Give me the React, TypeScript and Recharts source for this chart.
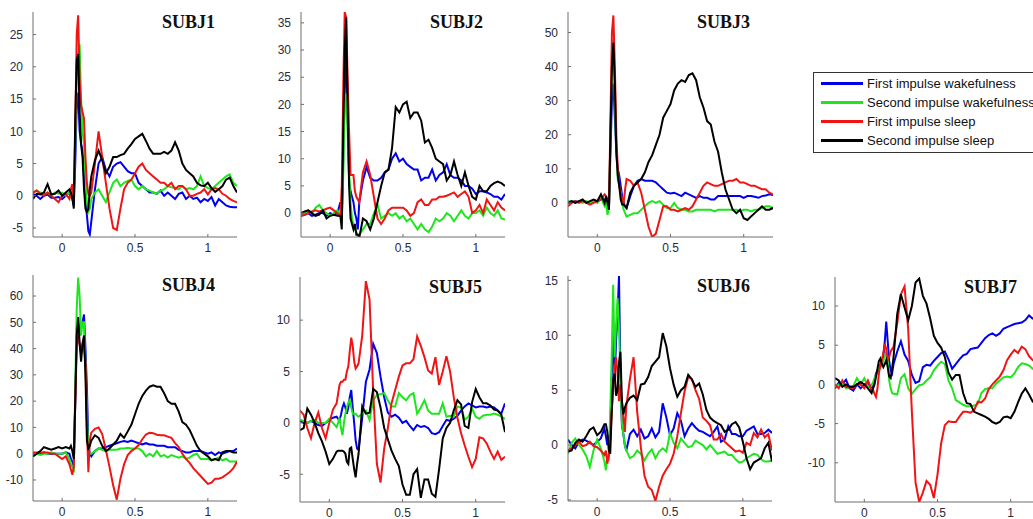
import { LineChart, Line, XAxis, YAxis } from 'recharts';

// time axis (s), denser around the stimulus artefact
const t = [
  -0.2, -0.175, -0.15, -0.125, -0.1, -0.075, -0.05, -0.025, 0, 0.025, 0.05,
  0.06, 0.07, 0.08, 0.09, 0.1, 0.11, 0.12, 0.13, 0.14, 0.15, 0.16, 0.17, 0.18, 0.19, 0.2,
  0.225, 0.25, 0.275, 0.3, 0.325, 0.35, 0.375, 0.4, 0.425, 0.45,
  0.475, 0.5, 0.525, 0.55, 0.575, 0.6, 0.625, 0.65, 0.675, 0.7,
  0.725, 0.75, 0.775, 0.8, 0.825, 0.85, 0.875, 0.9, 0.925, 0.95,
  0.975, 1.0, 1.025, 1.05, 1.075, 1.1, 1.125, 1.15, 1.175, 1.2,
];

const seriesNames = [
  'First impulse wakefulness',
  'Second impulse wakefulness',
  'First impulse sleep',
  'Second impulse sleep',
];
const seriesColors = ['#0000ee', '#1ee61e', '#f01414', '#000000'];

const xTicks = [0, 0.5, 1];

// SUBJ1
const subj1Wake1 = [
  0.3, 0, -0.5, 0, 0.2, -0.3, -0.3, -0.2, -0.5, 0, 0.5,
  0, -0.5, -1.5, 5, 14, 16, 10, 8, 7, 3, -1, -3, -5.5, -6, -4,
  1, 5, 6, 4, 3, 4.5, 5, 5.2, 4.5, 3.8,
  3.5, 3.5, 2, 1.5, 1, 0.5, 0.5, 0.3, 0.8, 0,
  0.5, 0, -0.5, 0.3, 0.5, -0.5, 0, -0.5, -0.3, -1,
  -0.5, -0.8, -0.2, -1.5, -0.5, -1, -1.5, -1.7, -1.8, -1.8,
];
const subj1Wake2 = [
  0.5, 0.8, 0.5, 0.3, 0.5, 0, 0.5, 0.3, 0.5, 0, 0.5,
  0, 0.5, -0.5, 8, 18, 22, 23.5, 15, 10, 8, 3, -1, -2.5, -2, -0.5,
  0.5, 1, 0, -1, 0.5, 2, 2.5, 1.5, 2, 2.3,
  2.5, 1.5, 1, 1.5, 1, 0.8, 0.5, 0.3, 0.8, 1,
  1.5, 1.3, 1.2, 1, 1.5, 1, 1.2, 1, 1.5, 3,
  1.5, 1.2, 1, 1.5, 2, 2.5, 3, 3.3, 2, 1.5,
];
const subj1Sleep1 = [
  0.5, 0.8, 0.3, 0, 0.5, 0, -0.5, -1, 0, 0.3, -0.5,
  1, 1.8, -1, 10, 25, 28, 18, 14, 13, 12, 6, 2, 0.3, 0, 0.5,
  5, 10, 6, 2, -2, -5, -5.3, -2, 1, 2,
  2.5, 3.5, 4.5, 5, 4, 3.5, 3, 2.5, 2, 2,
  1.5, 2, 1, 1.5, 1.5, 1, 0, 0, 0.3, 0.5,
  1, 0.2, 1, 1.2, 1, 0.3, 0, -0.5, -0.8, -1,
];
const subj1Sleep2 = [
  -0.5, 0.3, 0.2, 0.5, 1.8, 0.2, 0.3, 0.8, 0, 0.5, 1.0,
  0.5, -0.3, -2, 12, 21, 22, 13, 8, 6, 1, -2, -2.5, -2, 1, 3,
  5.5, 7, 5.5, 3.5, 4.5, 6, 6, 6.3, 6.5, 7.3,
  8, 8.8, 9.2, 9.6, 8.5, 7.3, 6.5, 6.5, 6.5, 6.8,
  6.5, 7, 8.3, 7, 5, 4, 3.5, 3, 2, 1.6,
  1.5, 2, 1.2, 0.6, 1, 1.5, 2.5, 2.8, 1.5, 0.5,
];

// SUBJ2
const subj2Wake1 = [
  -0.5, -0.3, 0, -0.5, -0.3, 0, 0, -0.5, 0, -0.3, 0,
  1, 2, -1, 10, 22, 30, 18, 6, 4, 3, 2, 0, -1, -3, 2,
  6, 8.5, 6.5, 6, 6, 6.5, 7.5, 8, 10, 11,
  9.5, 10, 9, 8.5, 8, 8, 6, 6.5, 6.5, 8,
  6, 7, 7.5, 9, 7, 6.5, 6.5, 6, 5, 5,
  4.5, 3.5, 4, 4, 3.8, 3.5, 3, 3, 2.5, 3.5,
];
const subj2Wake2 = [
  -0.5, 0, 0.5, 0, 1, 1.5, 0.5, 0, -0.5, 0, 0.5,
  0, -0.5, -1, 7, 20, 22, 15, 8, 2, -1, -2, -3, -3.5, -4, -4,
  -3, -2, -2, 0, 1.5, -1, -0.5, 0, -0.5, 0,
  -1, -0.5, -1.5, -1, -2, -3, -2, -3, -3.5, -2.5,
  -1, -1.5, -1, 0, -0.5, -1.5, -0.5, 0.5, -0.5, -1,
  0, 0, 0.5, -0.5, 1, 0, -0.5, 0.5, -1, -1.2,
];
const subj2Sleep1 = [
  -0.5, -0.3, 0, 0.3, 0.5, 0.3, 0.5, 0.8, 1, 0.5, 0,
  -0.5, -0.5, 5, 23, 37, 36, 25, 15, 7, 7, 7, 4, 3, 2.5, 2,
  7.5, 9.5, 7, 3, -1, -2, -1, 0.5, 1, 1,
  1, 1, 0.5, -0.5, 0, 2, 2.5, 1.5, 1.5, 2.5,
  2.5, 3, 3, 3.2, 3.5, 3.8, 3, 3.5, 4, 3,
  0, 0.5, 1.5, 0, 2.5, 1.5, 0.5, 2, 1, 0.5,
];
const subj2Sleep2 = [
  0, 0.3, 0.5, 0, -0.5, -0.3, 0.5, -1, -0.5, -0.3, -0.5,
  -0.5, -0.5, -3, 15, 30, 36, 20, 5, -1, -2, -3, -2, -4, -4, -4.5,
  -1, -1.5, -3, -1, 2, 5, 7.5, 8, 12, 19.5,
  18.5, 20, 20.5, 17.5, 18.5, 18.5, 17, 13, 13.5, 12,
  10, 9.5, 9, 6, 7, 9.5, 7, 5, 7.5, 5,
  3, 2.5, 5, 4, 4, 5, 5.5, 5.8, 5.5, 5,
];

// SUBJ3
const subj3Wake1 = [
  0, 0.3, 0.5, 0.3, 0.5, 0.3, 0, 0.3, 0.5, 1, 1,
  0.5, 0, -1, 15, 30, 35, 25, 15, 10, 8, 5, 2, 0, -1, -1.5,
  2, 5, 6.5, 7, 6.5, 6.5, 6.5, 6, 5, 4,
  3, 2.8, 3, 2.5, 2, 3, 2.5, 2, 1.5, 2,
  1.5, 1.5, 1, 1, 2, 2, 2, 2, 2, 2,
  2, 1.5, 2, 2, 1.8, 1.5, 2, 2.2, 2.5, 2.3,
];
const subj3Wake2 = [
  0.5, 0.5, 0, 0.5, 0, 0.5, 0, 0.5, 0, 1.5, -1,
  0, -3.5, -1, 20, 40, 48, 30, 15, 7, 5, 3, 0, -2, -3, -4,
  -3.5, -3, -3, -2, -1, 0, 0.5, 0, 0.5, -0.5,
  -1.5, -1.5, 0, -1.5, -2, -2, -2.5, -2.5, -2, -2,
  -2, -2, -2, -2.5, -2, -2, -2, -2, -2, -2,
  -2.5, -2, -2, -2.5, -2, -2, -1.5, -1, -1, -1.5,
];
const subj3Sleep1 = [
  -1, 0, 0.5, 0, 0.5, 0, -0.5, 0, 0.5, 1, 2.5,
  2, 1, -1, 25, 50, 55, 40, 20, 10, 5, 3, 1, 0, 4, 7,
  6.5, 5, 6, 3, -2, -7, -10, -9, -5, -1,
  -1, -2, -2, -2.5, -2, -1.5, -2, -1, 1, 3,
  5, 6, 5.5, 5, 5, 5.5, 6, 6.5, 6.5, 7,
  6, 6, 5.5, 5, 5, 4.5, 4, 4, 3, 2.5,
];
const subj3Sleep2 = [
  0, 0.5, 0, 0.5, 1, 0, 0.5, 1, 0.5, 2.5, 0,
  2, 0, -2, 20, 40, 47, 35, 15, 8, 5, 1, -0.5, -0.5, -1, -1.5,
  3, 5, 6, 7, 9, 12, 14, 17, 20, 25,
  27, 29, 33, 35, 36, 35.5, 37.5, 38, 36, 31,
  28, 24, 23, 18, 15, 9, 4, 1, -2, -3,
  -2, -4.5, -5, -4, -3, -2, -1, -2, -2, -1.5,
];

// SUBJ4
const subj4Wake1 = [
  0, 0, 0, 0.5, 0, 0, 0, 0, 0, 0.5, 0,
  -2, -3, -5, 20, 48, 50, 45, 48, 50, 53, 40, 25, 3, 0, -1,
  1, 2, 2, 2.5, 3, 3.5, 4, 4.5, 4.8, 4.5,
  5, 4.5, 4, 3.5, 4, 3.5, 3.5, 3, 3, 3,
  2.5, 2.5, 2.5, 1.5, 1, 0.5, 0.5, 1, 1, 1,
  0.5, 0, 0.5, -0.5, 0.5, 0, 0.5, 1, 1, 2,
];
const subj4Wake2 = [
  -1, 0, -0.5, 0, 0, 0.5, 0, 0, 0, 0.5, -2,
  -4, -5, -6, 25, 55, 67, 60, 45, 50, 50, 35, 15, 2, 0, 0,
  1, 2, 1.5, 1, 1.5, 1.5, 1.5, 2, 2, 2.3,
  2, 2, 2, 1, -1, 0, -1, 1, -1, -0.5,
  -1.5, -0.5, -1, -1.5, -1, -2, -1.5, -0.5, 0, -2,
  -2, -2, -2.5, -2, -1.5, -2.5, -2, -3, -3, -3,
];
const subj4Sleep1 = [
  0.5, 0.5, 0.5, 0.5, 0.5, 0, 0, -1, -2, -1, -4,
  -6, -8, -5, 20, 40, 45, 42, 38, 42, 40, 35, 10, -7, 5, 8,
  9.5, 10, 7.5, 1.5, -5, -12, -17.5, -9.5, -4, -0.5,
  1, 2, 3.3, 5.5, 7.3, 8, 7.8, 7.2, 7, 7,
  6.5, 6, 4, 2.5, 0, -2, -3.5, -5.5, -7, -8.5,
  -10, -11.5, -11, -9.5, -9.5, -9, -8, -7, -5.5, -3,
];
const subj4Sleep2 = [
  -1, 0, 1, 2.5, 2, 1.5, 2, 2.5, 2, 2.5, 2,
  3, 1, -2, 20, 45, 52, 42, 35, 42, 45, 30, 5, 2, 3, 5,
  7, 6, 3, 1, 2, 3.5, 5, 7.5, 6, 8.5,
  11, 15, 19, 22, 24, 25.5, 26, 25.5, 25.5, 23,
  20, 19, 19, 16, 12, 11, 9, 6, 3, 1,
  0, -1, -2.5, -2, -2.5, 0.5, 1, 1, 0.5, 0.5,
];

// SUBJ5
const subj5Wake1 = [
  0.2, 0, 0, 0.2, 0, -0.2, -0.3, 0, 0.3, 0.5, 0.6,
  0.4, 0.3, 0.8, 1.5, 1.9, 1.5, 0.9, 1.5, 2.5, 3.2, 1.5, 0, -1.7, -2.5, -2.6,
  0.5, 4, 5.2, 7.7, 6.8, 4.5, 2.5, 1, 0.6, 0.8,
  0.5, 0, 0.2, -0.3, -0.7, -0.2, -0.4, -0.3, -0.5, -1,
  -1.1, -0.9, -0.3, 0.3, 0.2, 0.4, 0.7, 1.2, 1.6, 1.9,
  1.7, 1.5, 1.6, 1.6, 1.5, 1.6, 1.5, 1.2, 0.9, 1.9,
];
const subj5Wake2 = [
  0.3, 0.2, 0, 0.2, 0.3, 0, 0, 0, 0.4, 0, -0.4,
  0, 0.5, -0.5, -1.2, 0, 0.9, 1.5, 2, 2.2, 1.5, 0.9, 0.9, 0.9, 0.7, 0.6,
  0.9, 1.2, 0.3, 2.2, 2.7, 2.8, 2.9, 2.2, 1.6, 1.6,
  2.9, 2.5, 2.2, 2.7, 2.9, 0.9, 1.5, 2.2, 1.2, 0.9,
  0.9, 0.9, 1.9, 0.6, 0.7, 0.6, 1.6, 1.5, 0.3, 0.6,
  1.4, 0.6, 0.4, 0.7, 0.8, 0.8, 0.9, 0.8, 0.6, 0.4,
];
const subj5Sleep1 = [
  1.2, 0.8, -0.5, -1.5, 0, 1, -0.5, -1.5, 0, 1.3, 1.9,
  2.8, 3.7, 4, 4, 4.2, 4.2, 5, 5.5, 7, 8.3, 7.5, 6, 5.3, 5.5, 5.8,
  8.5, 13.8, 12, 3, -4, -5.8, -2.5, -0.5, 1.9, 3.2,
  4.5, 5.6, 5.8, 5.8, 6.2, 8.4, 7.5, 6.4, 5.1, 4.8,
  6.4, 3.7, 5, 6.5, 5, 2.5, 0.5, -1, -2.2, -3.3,
  -4.3, -3.5, -1.4, -1.5, -2, -2.8, -3.5, -2.8, -3.6, -3.3,
];
const subj5Sleep2 = [
  -0.7, -0.5, 1.4, 0.8, 0, -1, -1.8, -2.8, -4, -3.5, -2.8,
  -2.7, -2.7, -2.7, -2.7, -2.8, -3, -3.8, -4, -2.5, -2.4, -3.5, -4.5, -5.3, -4, -3,
  1.6, 0.9, 1, 3.3, 3, 1.5, -0.5, -1.6, -2.7, -3.5,
  -4.2, -6, -7, -7, -5, -4.5, -7.3, -5.5, -5.5, -6.9,
  -7.2, -4.5, -1.5, -0.5, 0, 1.2, 2.2, 1.8, -0.3, -0.5,
  2, 3.3, 2.5, 1.9, 1.9, 1.7, 1.3, 1.2, 0.8, -0.9,
];

// SUBJ6
const subj6Wake1 = [
  0.5, 0, -0.3, 0.3, 0.5, 0.4, 0.2, 0, 0.3, 0.6, 1.5,
  0.8, 0, 0.8, 1, 6, 11, 6, 9.5, 12, 15.4, 6, 1.8, 1, 0, -0.5,
  1, 1.4, 0.8, 1.4, 0.6, 0.8, 1.5, 0.7, 1.2, 3.8,
  2.5, 0.9, 1.5, 2.9, 2.2, 0.8, 1.5, 2, 1.6, 1.3,
  1.2, 1, 0.8, 1.2, 1.7, 0.3, 0.5, 1.7, 1, 1,
  0.8, 0.8, 1.3, 1.5, 1.7, 1, 1, 1.1, 1.4, 1.1,
];
const subj6Wake2 = [
  -0.8, 0.2, 0.6, 0, -0.4, -1, -2, -0.5, 0.5, -0.3, -1.5,
  -2.3, -1, -1.2, 3, 8, 14.6, 8, 11, 13.4, 10.8, 6, 2, 1, 0, -0.5,
  -1.2, -1, -0.5, -0.8, -1.4, -0.8, -0.4, -1.2, -0.6, -0.3,
  -0.6, 1.1, 0.2, -0.3, 0.6, 0.2, -0.2, -0.1, 0.4, 0.2,
  0, -0.4, 0, -0.4, -0.8, -0.7, -0.6, -0.9, -0.9, -1.3,
  -1.6, -1.5, -1.2, -1, -0.8, -0.9, -1.3, -1.5, -1.5, -1.4,
];
const subj6Sleep1 = [
  -0.5, -0.3, 0, 0.3, -0.1, 0, 0.3, -0.1, -0.2, -0.5, -0.9,
  -0.5, -1.7, -1, 0.5, 3, 5, 7, 8, 6.5, 4, 5.5, 4, 2.6, 1.2, 3.5,
  6, 8, 3, -0.2, -2.8, -3.8, -4.1, -5.1, -3.8, -2.8,
  -2.2, -1.7, -0.8, 0.8, 2.9, 4.9, 6.2, 6, 5, 4.2,
  2.5, 2.2, 1.8, 0.5, 0.5, 1, 0.3, 0, -0.3, -0.6,
  -0.5, -0.7, 0.2, 0, 1.1, 0.7, 1.4, 0.7, 1, -0.5,
];
const subj6Sleep2 = [
  -0.6, -0.5, 0.2, 0.5, 0.3, 0.8, 1.4, 1.6, 0.9, 1.2, 1.9,
  1.9, 1.2, -0.5, -0.8, 3, 6, 6.5, 4.5, 5, 7.5, 8.5, 4, 2.8, 3.4, 3.8,
  4.3, 4.5, 4.1, 5.5, 5.6, 6.2, 7.2, 7.6, 8, 10.2,
  9, 7, 5.5, 4.4, 5, 5.3, 6.4, 6, 5.3, 5.6,
  4.6, 3.2, 2.5, 2.2, 2, 1.8, 1.2, 1.4, 1.9, 2.1,
  1.6, 0.3, -1.2, -2.2, -1.6, -1.4, -1.2, -0.3, 0.2, -1.5,
];

// SUBJ7
const subj7Wake1 = [
  -0.5, 0.2, 0, 0.6, -0.5, -0.8, 0, -0.5, 0, 0.3, -0.7,
  -0.3, 0.5, 1.4, 1.7, 1.8, 2.5, 3, 3.5, 5.5, 8, 5.5, 3, 1.8, 1.4, 2.6,
  4.2, 5.5, 3.8, 3, 1.2, 0.2, 0.4, 2.2, 2.5, 2.4,
  3, 3.5, 4, 4.2, 3.2, 2, 2.6, 3.2, 3.7, 3.9,
  4.5, 4.6, 4.7, 5.3, 5.9, 6.3, 6.5, 6.2, 6.5, 7.1,
  7.3, 7.5, 7.7, 7.8, 7.9, 8.2, 8.8, 8.4, 8.5, 8.7,
];
const subj7Wake2 = [
  -0.3, 0, 0.1, -0.5, -0.3, -0.2, 0.8, 0, 0.8, -0.3, -0.1,
  0.3, 0.8, 1.2, 1.8, 2, 2.2, 2.4, 3, 3.5, 4.2, 3, 0.5, -0.5, -1.1, -1.2,
  -1.3, 0.8, 1.3, -0.5, -1.2, -0.6, -0.1, 0, 0.5, 0.9,
  1.8, 2.4, 2.9, 2.6, 0.5, -0.5, -2, -2.3, -2.6, -2.8,
  -2.8, -2.7, -2.5, -1.1, -0.6, -0.5, -0.5, 0.1, 0.5, 0.9,
  1, 0.9, 1.4, 2.2, 2.7, 2.6, 2.4, 2, 2, 2,
];
const subj7Sleep1 = [
  0, -0.5, 0.5, -0.3, -0.4, -0.5, 0, 0, -0.5, 0.5, -0.7,
  -0.7, -1.2, -1.6, -0.5, 1.4, 2.5, 3.1, 4, 5.2, 4.5, 3.1, 3.5, 4.2, 4.5, 4.8,
  7.8, 11.5, 12.5, 7, -3.5, -12.5, -15, -13.8, -12.3, -12.8,
  -14.5, -11.5, -7.5, -5.2, -4.7, -4.8, -4.8, -4.1, -3.5, -3.5,
  -3.6, -3.3, -2.2, -2.3, -1.8, -0.6, 0, 0.5, 1, 1.8,
  3.1, 3.8, 4.4, 4, 4.8, 4.5, 3.6, 3.1, 3, 2.8,
];
const subj7Sleep2 = [
  0.8, 0.5, -0.3, 0, -0.3, -0.3, 0, 0.3, 0, -0.5, -1.1,
  -0.5, 0, 1, 2, 3, 3.3, 2.6, 2.2, 2.6, 3.1, 2.2, 1, 0.8, 2, 3.5,
  9, 11.5, 9.8, 8.2, 10, 13, 13.5, 11.3, 10.3, 8.4,
  6.2, 5.3, 4.7, 3.5, 1.5, 0.6, 1.2, 1.2, -1.1, -2.4,
  -2.5, -3.5, -3.7, -3.9, -4.1, -4.4, -4.8, -5, -4.8, -4.2,
  -4.1, -4.3, -3.5, -2.3, -1.2, -0.5, -1.3, -2.2, -2.5, -2.5,
];

const subjects = [
  { title: 'SUBJ1', series: [subj1Wake1, subj1Wake2, subj1Sleep1, subj1Sleep2], yDomain: [-6.4, 28.5], yTicks: [-5, 0, 5, 10, 15, 20, 25] },
  { title: 'SUBJ2', series: [subj2Wake1, subj2Wake2, subj2Sleep1, subj2Sleep2], yDomain: [-4.4, 37], yTicks: [0, 5, 10, 15, 20, 25, 30, 35] },
  { title: 'SUBJ3', series: [subj3Wake1, subj3Wake2, subj3Sleep1, subj3Sleep2], yDomain: [-10, 56], yTicks: [0, 10, 20, 30, 40, 50] },
  { title: 'SUBJ4', series: [subj4Wake1, subj4Wake2, subj4Sleep1, subj4Sleep2], yDomain: [-18, 68], yTicks: [-10, 0, 10, 20, 30, 40, 50, 60] },
  { title: 'SUBJ5', series: [subj5Wake1, subj5Wake2, subj5Sleep1, subj5Sleep2], yDomain: [-7.7, 14.2], yTicks: [-5, 0, 5, 10] },
  { title: 'SUBJ6', series: [subj6Wake1, subj6Wake2, subj6Sleep1, subj6Sleep2], yDomain: [-5.1, 15.4], yTicks: [-5, 0, 5, 10, 15] },
  { title: 'SUBJ7', series: [subj7Wake1, subj7Wake2, subj7Sleep1, subj7Sleep2], yDomain: [-15, 13.7], yTicks: [-10, -5, 0, 5, 10] },
];

// plot-area placement on the page
const layout = [
  { left: 33, top: 12, width: 204, height: 225 },
  { left: 301, top: 12, width: 204, height: 225 },
  { left: 568, top: 12, width: 205, height: 225 },
  { left: 33, top: 275, width: 204, height: 226 },
  { left: 300, top: 277, width: 205, height: 225 },
  { left: 568, top: 276, width: 204, height: 225 },
  { left: 835, top: 277, width: 205, height: 225 },
];

const keys = ['w1', 'w2', 's1', 's2'];
const YW = 40;
const MT = 8;
const XH = 26;
const tickStyle = { fontSize: 12, fill: '#2a2a3a', fontFamily: 'Liberation Sans, Arial, sans-serif' };

function Panel({ subj, box }: { subj: typeof subjects[number]; box: typeof layout[number] }) {
  const data = t.map((x, i) => {
    const row: Record<string, number> = { t: x };
    keys.forEach((k, j) => { row[k] = subj.series[j][i]; });
    return row;
  });
  return (
    <>
      <div style={{ position: 'absolute', left: box.left - YW, top: box.top - MT }}>
        <LineChart
          width={YW + box.width + 4}
          height={MT + box.height + XH}
          data={data}
          margin={{ top: MT, right: 4, bottom: 0, left: 0 }}
        >
          <XAxis
            dataKey="t"
            type="number"
            domain={[-0.2, 1.2]}
            ticks={xTicks}
            allowDataOverflow
            height={XH}
            stroke="#6e6e6e"
            tickSize={-3}
            tickMargin={9}
            tick={tickStyle}
          />
          <YAxis
            type="number"
            domain={subj.yDomain}
            ticks={subj.yTicks}
            allowDataOverflow
            width={YW}
            stroke="#6e6e6e"
            tickSize={-3}
            tickMargin={13}
            tick={tickStyle}
          />
          {keys.map((k, j) => (
            <Line
              key={k}
              dataKey={k}
              type="linear"
              stroke={seriesColors[j]}
              strokeWidth={2}
              dot={false}
              isAnimationActive={false}
            />
          ))}
        </LineChart>
      </div>
      <div
        style={{
          position: 'absolute',
          left: box.left + 129,
          top: box.top + 1,
          fontFamily: 'Liberation Serif, Times New Roman, serif',
          fontWeight: 'bold',
          fontSize: 18,
          lineHeight: '18px',
          color: '#111',
          whiteSpace: 'nowrap',
        }}
      >
        {subj.title}
      </div>
    </>
  );
}

function LegendBox() {
  return (
    <div
      style={{
        position: 'absolute',
        left: 813,
        top: 72,
        width: 240,
        height: 79,
        border: '1px solid #333',
        background: '#fff',
        fontFamily: 'Liberation Sans, Arial, sans-serif',
        fontSize: 13,
        color: '#111',
      }}
    >
      {seriesNames.map((name, i) => (
        <div key={name} style={{ position: 'absolute', left: 0, top: 1 + i * 19, height: 19, display: 'flex', alignItems: 'center', whiteSpace: 'nowrap' }}>
          <div style={{ marginLeft: 7, width: 42, height: 3, background: seriesColors[i] }} />
          <span style={{ marginLeft: 4 }}>{name}</span>
        </div>
      ))}
    </div>
  );
}

export default function App() {
  return (
    <div style={{ position: 'absolute', left: 0, top: 0, width: 1033, height: 519, overflow: 'hidden', background: '#fff' }}>
      {subjects.map((s, i) => (
        <Panel key={s.title} subj={s} box={layout[i]} />
      ))}
      <LegendBox />
    </div>
  );
}
